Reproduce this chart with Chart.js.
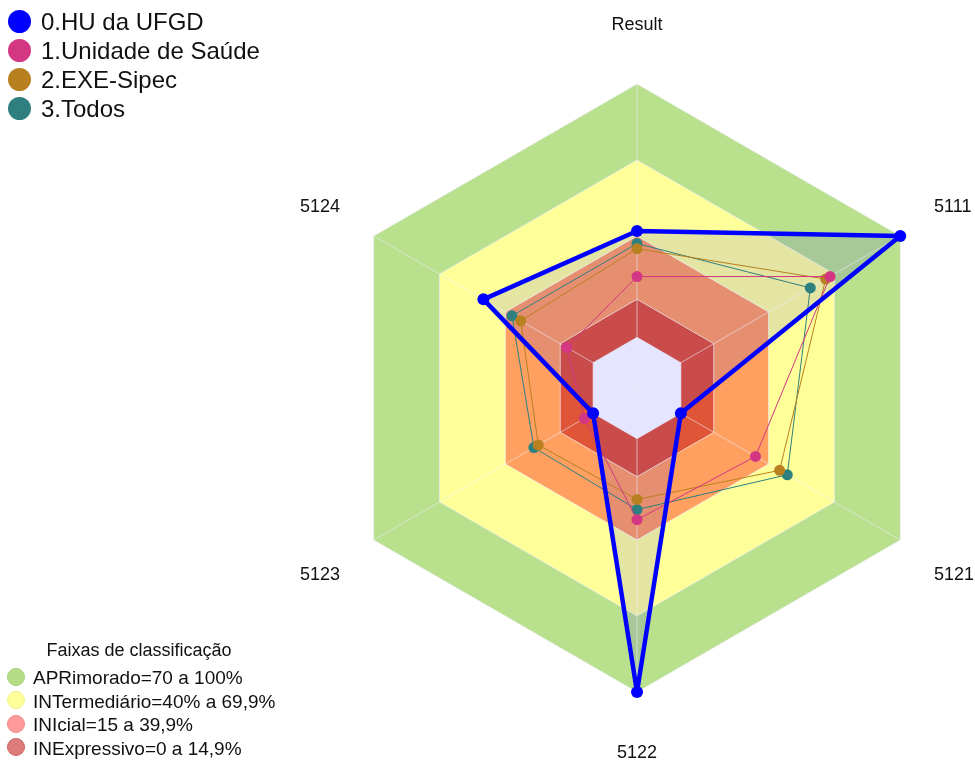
<!DOCTYPE html>
<html>
<head>
<meta charset="utf-8">
<script src="https://cdn.jsdelivr.net/npm/chart.js@4/dist/chart.umd.min.js"></script>
<style>
    body {
        margin     : 0;
        background : #fff;
        font-family: "Liberation Sans", Arial, sans-serif;
        color      : #111;
    }
    #wrap {
        position: relative;
        width   : 975px;
        height  : 763px;
    }
    #seriesLegend {
        position : absolute;
        left     : 8px;
        top      : 7px;
        font-size: 24px;
    }
    #seriesLegend .row {
        height     : 29px;
        line-height: 29px;
        white-space: nowrap;
    }
    #bandLegend {
        position : absolute;
        left     : 0;
        top      : 639px;
        width    : 278px;
        font-size: 19px;
    }
    #bandLegend .title {
        text-align : center;
        font-size  : 18px;
        line-height: 22px;
        height     : 27px;
    }
    #bandLegend .row {
        height      : 23.5px;
        line-height : 23.5px;
        padding-left: 7px;
        white-space : nowrap;
    }
    .dot {
        display       : inline-block;
        border-radius : 50%;
        vertical-align: middle;
        position      : relative;
        top           : -2px;
    }
    #seriesLegend .dot {
        width       : 23px;
        height      : 23px;
        margin-right: 10px;
    }
    #bandLegend .dot {
        width       : 18px;
        height      : 18px;
        margin-right: 8px;
        box-sizing  : border-box;
    }
</style>
</head>
<body>
<div id="wrap">
    <canvas id="radar" width="975" height="763"></canvas>
    <div id="seriesLegend"></div>
    <div id="bandLegend"><div class="title">Faixas de classificação</div></div>
</div>
<script>
// axes, clockwise from the top
const axisLabels = ['Result', '5111', '5121', '5122', '5123', '5124'];

const seriesNames = ['0.HU da UFGD', '1.Unidade de Saúde', '2.EXE-Sipec', '3.Todos'];
const huUfgd       = [42, 100, 0, 100, 0, 50];
const unidadeSaude = [24, 68, 34, 32, 4, 12];
const exeSipec     = [35, 66, 45, 24, 25, 33];
const todos        = [37, 59, 48.5, 28, 27, 37];

// classification bands (percent)
const bandNames  = ['APRimorado=70 a 100%', 'INTermediário=40% a 69,9%', 'INIcial=15 a 39,9%', 'INExpressivo=0 a 14,9%'];
const bandTop    = [100, 70, 40, 15];
const bandBottom = [70, 40, 15, 0];

const gridValues = [0, 15, 40, 70, 100];
const scaleMin = -20;
const scaleMax = 100;

const seriesColors = ['#0000ff', '#d33682', '#b8801e', '#2e7f7f'];
const bandColors   = ['#b9e08c', '#ffff99', '#ffa060', '#e05537'];
const bandKeyColors  = ['#b5dd88', '#ffff99', '#ff9a9a', '#de7c7c'];
const bandKeyBorders = ['#a5cf78', '#f0f08a', '#f08a8a', '#c86464'];
const labelPadding = [50, 39, 39, 52, 39, 39];
const labelLineHeight = [1, 1, 1.7, 1, 1.7, 1];

const seriesData = [huUfgd, unidadeSaude, exeSipec, todos];

let datasets = seriesData.map((values, i) => ({
    label               : seriesNames[i],
    data                : values,
    borderColor         : seriesColors[i],
    backgroundColor     : i === 0 ? 'rgba(0,0,255,0.1)' : seriesColors[i],
    pointBackgroundColor: seriesColors[i],
    pointBorderColor    : seriesColors[i],
    pointBorderWidth    : 0,
    borderWidth         : i === 0 ? 4.5 : 1,
    borderJoinStyle     : 'round',
    pointRadius         : i === 0 ? 6 : 5.5,
    fill                : i === 0 ? 'start' : false
}));

bandTop.forEach((top, i) => {
    datasets.push({
        label          : bandNames[i],
        data           : axisLabels.map(() => top),
        backgroundColor: bandColors[i],
        borderWidth    : 0,
        pointRadius    : 0,
        fill           : {value: bandBottom[i]}
    });
});

const ctx = document.getElementById('radar');

new Chart(ctx, {
    type   : 'radar',
    data   : {
        labels  : axisLabels,
        datasets: datasets
    },
    options: {
        responsive      : false,
        animation       : false,
        devicePixelRatio: 1,
        layout          : {
            padding: {left: 299, top: 16, right: 0, bottom: 0}
        },
        plugins         : {
            legend : {display: false},
            tooltip: {enabled: false},
            filler : {drawTime: 'beforeDraw'}
        },
        scales          : {
            r: {
                min            : scaleMin,
                max            : scaleMax,
                ticks          : {display: false},
                afterBuildTicks: axis => {
                    axis.ticks = gridValues.map(v => ({value: v}));
                },
                grid           : {color: 'rgba(235,235,245,0.6)', lineWidth: 1},
                angleLines     : {color: 'rgba(235,235,245,0.6)', lineWidth: 1},
                pointLabels    : {
                    color  : '#111',
                    font   : c => ({
                        family    : '"Liberation Sans", Arial, sans-serif',
                        size      : 18,
                        lineHeight: labelLineHeight[c.index]
                    }),
                    padding: c => labelPadding[c.index]
                }
            }
        }
    }
});

// legends
let seriesLegend = document.getElementById('seriesLegend');
seriesNames.forEach((name, i) => {
    let row = document.createElement('div');
    row.className = 'row';
    row.innerHTML = '<span class="dot" style="background:' + seriesColors[i] + '"></span>' + name;
    seriesLegend.appendChild(row);
});

let bandLegend = document.getElementById('bandLegend');
bandNames.forEach((name, i) => {
    let row = document.createElement('div');
    row.className = 'row';
    row.innerHTML = '<span class="dot" style="background:' + bandKeyColors[i]
        + ';border:1px solid ' + bandKeyBorders[i] + '"></span>' + name;
    bandLegend.appendChild(row);
});
</script>
</body>
</html>
